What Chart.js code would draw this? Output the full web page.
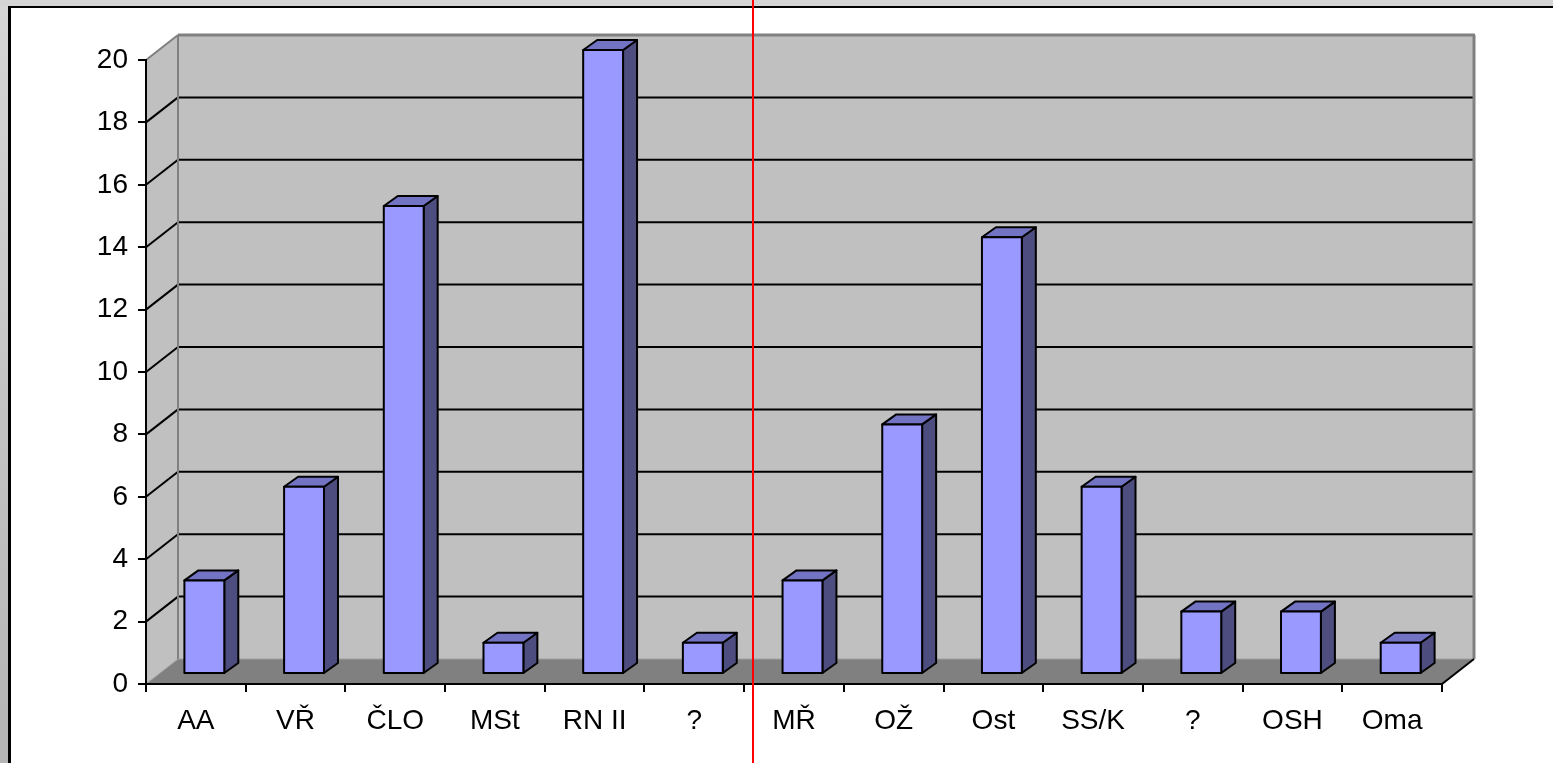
<!DOCTYPE html>
<html>
<head>
<meta charset="utf-8">
<script src="https://cdn.jsdelivr.net/npm/chart.js@4/dist/chart.umd.min.js"></script>
<style>
  html, body { margin: 0; padding: 0; background: #fff; }
  canvas { display: block; }
</style>
</head>
<body>
<canvas id="chart" width="1553" height="763"></canvas>
<script>
const labels = ["AA", "VŘ", "ČLO", "MSt", "RN II", "?", "MŘ", "OŽ", "Ost", "SS/K", "?", "OSH", "Oma"];
const values = [3, 6, 15, 1, 20, 1, 3, 8, 14, 6, 2, 2, 1];
const yTicks = [0, 2, 4, 6, 8, 10, 12, 14, 16, 18, 20];

// depth of the plot box, and of each bar
const DEPTH_X = 32, DEPTH_Y = -25;
const BAR_OX = 8.5, BAR_OY = -10, BAR_DX = 14, BAR_DY = -10;

function poly(ctx, pts, fill, stroke, lw) {
  ctx.beginPath();
  ctx.moveTo(pts[0][0], pts[0][1]);
  for (let i = 1; i < pts.length; i++) ctx.lineTo(pts[i][0], pts[i][1]);
  ctx.closePath();
  if (fill) { ctx.fillStyle = fill; ctx.fill(); }
  if (stroke) { ctx.strokeStyle = stroke; ctx.lineWidth = lw || 1; ctx.stroke(); }
}

function line(ctx, x1, y1, x2, y2, color, lw) {
  ctx.beginPath();
  ctx.moveTo(x1, y1);
  ctx.lineTo(x2, y2);
  ctx.strokeStyle = color;
  ctx.lineWidth = lw;
  ctx.stroke();
}

// Window frame, walls, floor and gridlines behind everything
const boxPlugin = {
  id: "box3d",
  beforeDraw(chart) {
    const ctx = chart.ctx;
    const { left, right, top, bottom } = chart.chartArea;
    const W = chart.width, H = chart.height;
    const y = chart.scales.y;

    ctx.save();
    ctx.fillStyle = "#fff";
    ctx.fillRect(0, 0, W, H);
    const g = ctx.createLinearGradient(0, 0, 0, H);
    g.addColorStop(0, "#d6d6d6");
    g.addColorStop(1, "#b4b4b4");
    ctx.fillStyle = g;
    ctx.fillRect(0, 0, 8, H);
    ctx.fillStyle = "#d4d4d4";
    ctx.fillRect(0, 0, W, 6);
    ctx.fillStyle = "#000";
    ctx.fillRect(8, 6, W - 8, 2);
    ctx.fillRect(8, 6, 3, H - 6);

    const bTop = top + DEPTH_Y, bBottom = bottom + DEPTH_Y;
    const bl = left + DEPTH_X, br = right + DEPTH_X;

    // back wall and side wall
    poly(ctx, [[bl, bTop], [br, bTop], [br, bBottom], [bl, bBottom]], "#c0c0c0");
    poly(ctx, [[left, top], [bl, bTop], [bl, bBottom], [left, bottom]], "#c0c0c0");
    // floor
    poly(ctx, [[left, bottom], [bl, bBottom], [br, bBottom], [right, bottom]], "#808080");

    ctx.lineCap = "butt";
    // gridlines across side and back walls
    yTicks.forEach(t => {
      if (t === 0 || t === 20) return;
      const py = y.getPixelForValue(t);
      line(ctx, left, py, bl, py + DEPTH_Y, "#000", 2);
      line(ctx, bl, py + DEPTH_Y, br, py + DEPTH_Y, "#000", 2);
    });

    // wall edges
    line(ctx, left, top, bl, bTop, "#808080", 2);
    line(ctx, bl, bTop, br + 1, bTop, "#808080", 3);
    line(ctx, bl, bTop, bl, bBottom, "#808080", 2);
    line(ctx, br, bTop, br, bBottom, "#808080", 3);
    line(ctx, bl, bBottom, br, bBottom, "#a0a0a0", 1);
    line(ctx, left, bottom, bl, bBottom, "#a0a0a0", 1);
    // right edge of the floor
    line(ctx, right, bottom, br, bBottom, "#000", 2);
    ctx.restore();
  },
  afterDatasetsDraw(chart) {
    const ctx = chart.ctx;
    const meta = chart.getDatasetMeta(0);
    ctx.save();
    ctx.lineJoin = "round";
    meta.data.forEach(bar => {
      const p = bar.getProps(["x", "y", "base", "width"], true);
      const l = p.x - p.width / 2 + BAR_OX, r = p.x + p.width / 2 + BAR_OX;
      const t = p.y + BAR_OY, b = p.base + BAR_OY;
      // side
      poly(ctx, [[r, t], [r + BAR_DX, t + BAR_DY], [r + BAR_DX, b + BAR_DY], [r, b]], "#4d4d80", "#000", 2);
      // top
      poly(ctx, [[l, t], [l + BAR_DX, t + BAR_DY], [r + BAR_DX, t + BAR_DY], [r, t]], "#7373c4", "#000", 2);
      // front
      poly(ctx, [[l, t], [r, t], [r, b], [l, b]], "#9999ff", "#000", 2);
    });
    ctx.restore();
  },
  afterDraw(chart) {
    // red divider between the two groups
    const ctx = chart.ctx;
    ctx.save();
    ctx.fillStyle = "#ff0000";
    ctx.fillRect(752, 0, 2, chart.height);
    ctx.restore();
  }
};

const font = { family: "'Liberation Sans', Arial, sans-serif", size: 28 };

new Chart(document.getElementById("chart"), {
  type: "bar",
  plugins: [boxPlugin],
  data: {
    labels: labels,
    datasets: [{
      data: values,
      backgroundColor: "rgba(0,0,0,0)",
      borderWidth: 0,
      categoryPercentage: 1,
      barPercentage: 0.4
    }]
  },
  options: {
    responsive: false,
    devicePixelRatio: 1,
    animation: false,
    layout: { padding: { top: 60, right: 111, left: 0, bottom: 0 } },
    plugins: { legend: { display: false }, tooltip: { enabled: false } },
    scales: {
      x: {
        grid: { drawOnChartArea: false, drawTicks: true, tickLength: 8, color: "#000", lineWidth: 2, offset: true },
        border: { color: "#000", width: 2 },
        ticks: { font: font, color: "#000", padding: 12, maxRotation: 0, autoSkip: false },
        afterFit: s => { s.height = 79; }
      },
      y: {
        min: 0,
        max: 20,
        afterBuildTicks: s => { s.ticks = yTicks.map(v => ({ value: v })); },
        grid: { drawOnChartArea: false, drawTicks: true, tickLength: 8, color: "#000", lineWidth: 2 },
        border: { color: "#000", width: 2 },
        ticks: { font: font, color: "#000", padding: 10 },
        afterFit: s => { s.width = 146; }
      }
    }
  }
});
</script>
</body>
</html>
